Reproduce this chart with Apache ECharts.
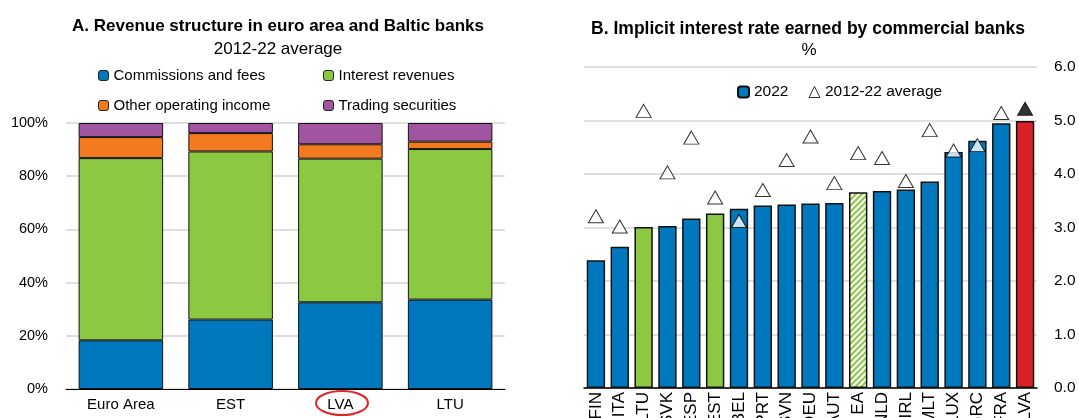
<!DOCTYPE html>
<html>
<head>
<meta charset="utf-8">
<script src="https://cdn.jsdelivr.net/npm/echarts@6/dist/echarts.min.js"></script>
<style>
  html, body { margin: 0; padding: 0; background: #fff; }
  #chart { width: 1079px; height: 418px; }
</style>
</head>
<body>
<div id="chart"></div>
<script>
// Panel A: revenue structure, 2012-22 average (%)
const catsA = ['Euro Area', 'EST', 'LVA', 'LTU'];
const commissions = [18.3, 26.1, 32.6, 33.6];
const interest = [68.5, 63.2, 54.0, 56.6];
const otherIncome = [7.9, 6.9, 5.4, 2.8];
const trading = [5.3, 3.8, 8.0, 7.0];

// Panel B: implicit interest rate (%)
const catsB = ['FIN', 'ITA', 'LTU', 'SVK', 'ESP', 'EST', 'BEL', 'PRT', 'SVN', 'DEU',
  'AUT', 'EA', 'NLD', 'IRL', 'MLT', 'LUX', 'GRC', 'FRA', 'LVA'];
const rate2022 = [2.39, 2.64, 3.01, 3.03, 3.17, 3.26, 3.35, 3.41, 3.43, 3.45,
  3.46, 3.66, 3.68, 3.71, 3.86, 4.41, 4.62, 4.95, 4.99];
const rateAvg = [3.21, 3.02, 5.18, 4.03, 4.68, 3.56, 3.12, 3.70, 4.26, 4.70,
  3.83, 4.39, 4.30, 3.87, 4.82, 4.44, 4.54, 5.14, 5.22];

const BLUE = '#0078BE';
const GREEN = '#8CC841';
const ORANGE = '#F47A20';
const PURPLE = '#A155A0';
const RED = '#DA2128';
const FONT = 'Liberation Sans, Arial, sans-serif';

// green hatch for the euro area bar
function hatch() {
  const c = document.createElement('canvas');
  c.width = c.height = 6;
  const ctx = c.getContext('2d');
  ctx.fillStyle = '#fff';
  ctx.fillRect(0, 0, 6, 6);
  ctx.strokeStyle = GREEN;
  ctx.lineWidth = 2;
  ctx.beginPath();
  ctx.moveTo(-1, 7); ctx.lineTo(7, -1);
  ctx.moveTo(-4, 4); ctx.lineTo(4, -4);
  ctx.moveTo(2, 10); ctx.lineTo(10, 2);
  ctx.stroke();
  return c;
}

function barColor(name) {
  if (name === 'LTU' || name === 'EST') return GREEN;
  if (name === 'LVA') return RED;
  if (name === 'EA') return { image: hatch(), repeat: 'repeat' };
  return BLUE;
}

const chart = echarts.init(document.getElementById('chart'));

const stackA = (name, data, color) => ({
  name, type: 'bar', stack: 'a', xAxisIndex: 0, yAxisIndex: 0,
  barWidth: '77%', data,
  itemStyle: { color, borderColor: '#111', borderWidth: 1 }
});

const legendA = (name, left, top) => ({
  data: [name], left, top, padding: 0, itemWidth: 10, itemHeight: 10,
  selectedMode: false,
  itemStyle: { borderColor: '#222', borderWidth: 1 },
  textStyle: { fontFamily: FONT, fontSize: 15, color: '#000' }
});

chart.setOption({
  animation: false,
  textStyle: { fontFamily: FONT },
  title: [
    { text: 'A. Revenue structure in euro area and Baltic banks', left: 273, top: 13, textAlign: 'center',
      textStyle: { fontFamily: FONT, fontSize: 17, fontWeight: 'bold', color: '#000' } },
    { text: '2012-22 average', left: 273, top: 36, textAlign: 'center',
      textStyle: { fontFamily: FONT, fontSize: 17, fontWeight: 'normal', color: '#000' } },
    { text: 'B. Implicit interest rate earned by commercial banks', left: 803, top: 15, textAlign: 'center',
      textStyle: { fontFamily: FONT, fontSize: 17.5, fontWeight: 'bold', color: '#000' } },
    { text: '%', left: 804, top: 37, textAlign: 'center',
      textStyle: { fontFamily: FONT, fontSize: 17, fontWeight: 'normal', color: '#000' } }
  ],
  legend: [
    legendA('Commissions and fees', 98, 68),
    legendA('Interest revenues', 323, 68),
    legendA('Other operating income', 98, 98),
    legendA('Trading securities', 323, 98),
    { data: ['2022', { name: '2012-22 average', itemStyle: { color: '#fff', borderColor: '#000', borderWidth: 1 } }],
      left: 737, top: 84, padding: 0, itemGap: 20,
      itemWidth: 11, itemHeight: 11, selectedMode: false,
      textStyle: { fontFamily: FONT, fontSize: 15.5, color: '#000' } }
  ],
  grid: [
    { left: 66, top: 123, width: 439, height: 266, outerBoundsMode: 'none' },
    { left: 584, top: 67, width: 453, height: 321, outerBoundsMode: 'none' }
  ],
  xAxis: [
    { type: 'category', gridIndex: 0, data: catsA,
      axisLine: { lineStyle: { color: '#000', width: 1 } }, axisTick: { show: false },
      axisLabel: { color: '#000', fontSize: 15, margin: 8 } },
    { type: 'category', gridIndex: 1, data: catsB,
      axisLine: { lineStyle: { color: '#000', width: 1.5 } }, axisTick: { show: false },
      axisLabel: { color: '#000', fontSize: 17, rotate: 90, interval: 0, margin: 4 } }
  ],
  yAxis: [
    { type: 'value', gridIndex: 0, min: 0, max: 100, interval: 20,
      axisLine: { show: false }, axisTick: { show: false },
      axisLabel: { color: '#000', fontSize: 14.5, margin: 18, formatter: '{value}%' },
      splitLine: { lineStyle: { color: '#D4D4D4', width: 1.5 } } },
    { type: 'value', gridIndex: 1, position: 'right', min: 0, max: 6, interval: 1,
      axisLine: { show: false }, axisTick: { show: false },
      axisLabel: { color: '#000', fontSize: 15.5, margin: 17, formatter: v => v.toFixed(1) },
      splitLine: { lineStyle: { color: '#D4D4D4', width: 1.5 } } }
  ],
  series: [
    stackA('Commissions and fees', commissions, BLUE),
    stackA('Interest revenues', interest, GREEN),
    stackA('Other operating income', otherIncome, ORANGE),
    stackA('Trading securities', trading, PURPLE),
    { name: '2022', type: 'bar', xAxisIndex: 1, yAxisIndex: 1, barWidth: '77%',
      itemStyle: { color: BLUE, borderColor: '#111', borderWidth: 1.5 },
      data: rate2022.map((v, i) => ({ value: v, itemStyle: { color: barColor(catsB[i]) } })) },
    { name: '2012-22 average', type: 'scatter', xAxisIndex: 1, yAxisIndex: 1,
      symbol: 'triangle', symbolSize: [15, 13], z: 5,
      itemStyle: { color: '#fff', borderColor: '#000', borderWidth: 1 },
      data: rateAvg.map((v, i) => catsB[i] === 'LVA'
        ? { value: v, itemStyle: { color: '#000' } } : v) }
  ],
  graphic: [
    { type: 'ellipse', shape: { cx: 342, cy: 403, rx: 26, ry: 12 },
      style: { fill: 'none', stroke: '#E0262B', lineWidth: 2 } }
  ]
});
</script>
</body>
</html>
